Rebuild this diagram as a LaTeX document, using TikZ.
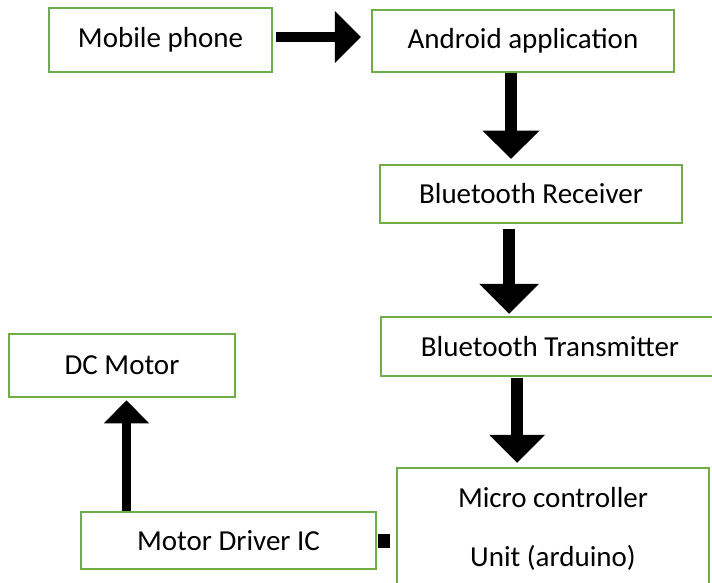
\documentclass[tikz,border=0pt]{standalone}
\usepackage{fontspec}
\setmainfont{Carlito}
\usetikzlibrary{arrows.meta,calc}
\definecolor{boxgreen}{HTML}{70AD47}
\tikzset{
  box/.style={draw=boxgreen, line width=2.5pt, inner sep=0pt, text=black,
    font=\fontsize{29}{35}\selectfont},
  label text/.style={inner sep=0pt, text=black, font=\fontsize{29}{35}\selectfont},
  blockarrow/.style n args={3}{draw=black, line width=#1,
    -{Triangle[width=#2, length=#3, line width=0pt]}},
}
\begin{document}
\begin{tikzpicture}[x=1pt,y=-1pt]
\useasboundingbox (0,0) rectangle (712,583);
\clip (0,0) rectangle (712,583);

\node[box, minimum width=223pt, minimum height=64pt] (phone) at (160.5,40) {Mobile phone};
\node[box, minimum width=302pt, minimum height=62pt] (android) at (523,41) {Android application};
\node[box, minimum width=302pt, minimum height=58pt] (receiver) at (531,194) {Bluetooth Receiver};
\node[box, minimum width=338pt, minimum height=59pt] (transmitter) at (550,346.5) {Bluetooth Transmitter};
\node[box, minimum width=226pt, minimum height=63pt] (dc) at (122,365.5) {DC Motor};
\node[box, minimum width=295pt, minimum height=57pt] (driver) at (228.5,540.5) {Motor Driver IC};
\node[box, minimum width=312pt, minimum height=132pt] (micro) at (553,534) {};
\node[label text] (microA) at (553,498) {Micro controller};
\node[label text] (microB) at (553,558) {Unit (arduino)};
\node[fill=black, inner sep=0pt, minimum width=12pt, minimum height=14pt] (sq) at ($(driver.east)+(7,0)$) {};

\draw[blockarrow={10pt}{52pt}{26pt}, shorten <=3pt, shorten >=10pt]
  ([yshift=3pt]phone.east) -- ([yshift=3pt]phone.east -| android.west);
\draw[blockarrow={12pt}{57pt}{28pt}, shorten >=5pt]
  ([xshift=-12pt]android.south) -- ([xshift=-12pt]android.south |- receiver.north);
\draw[blockarrow={12pt}{60pt}{30pt}, shorten <=5pt, shorten >=2pt]
  ([xshift=-22pt]receiver.south) -- ([xshift=-22pt]receiver.south |- transmitter.north);
\draw[blockarrow={12pt}{56pt}{28pt}, shorten <=1pt, shorten >=4pt]
  ([xshift=-33pt]transmitter.south) -- ([xshift=-33pt]transmitter.south |- micro.north);
\draw[blockarrow={9pt}{45pt}{23pt}, shorten >=2pt]
  ([xshift=4.5pt]dc.south |- driver.north) -- ([xshift=4.5pt]dc.south);
\end{tikzpicture}
\end{document}
